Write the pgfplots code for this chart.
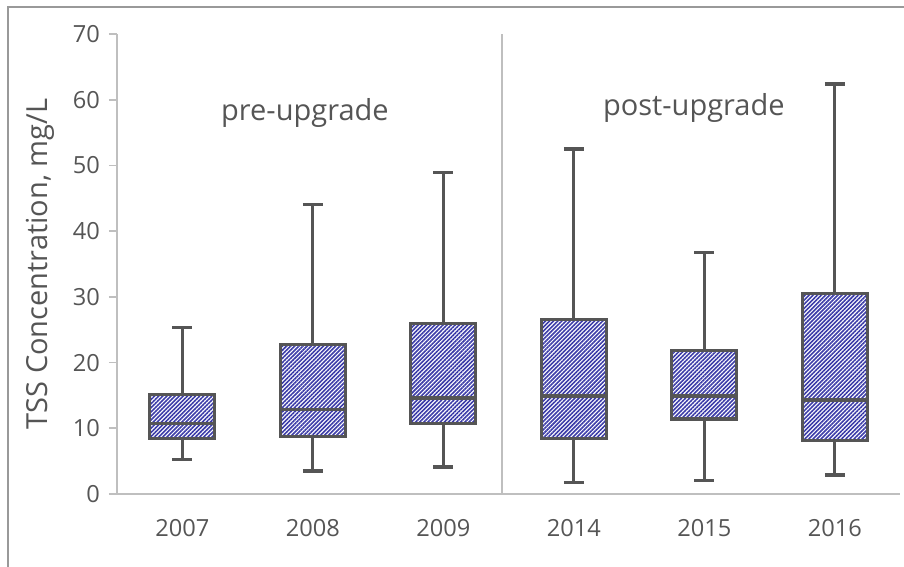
\documentclass[border=0pt]{standalone}
\usepackage{fontspec}
\setmainfont{Open Sans}
\usepackage{pgfplots}
\pgfplotsset{compat=1.18}
\usepgfplotslibrary{statistics}
\usetikzlibrary{patterns.meta}

\definecolor{txt}{HTML}{555555}
\definecolor{boxline}{HTML}{555555}
\definecolor{axisgray}{HTML}{BFBFBF}
\definecolor{hatch}{HTML}{3C3CA8}

\begin{document}
\begin{tikzpicture}
% 1 px of the reference = 0.5pt; axis box lower left at (0,0)
\path[use as bounding box] (-58.5pt,-36.5pt) rectangle (393.5pt,247pt);
\draw[color=axisgray!80!black, line width=0.8pt] (-54.5pt,-40pt) -- (-54.5pt,243.5pt) -- (400pt,243.5pt);

\begin{axis}[
    scale only axis,
    width=391.5pt, height=230pt,
    xmin=-0.5, xmax=5.5,
    ymin=0, ymax=70,
    axis x line=bottom, axis y line=left,
    axis line style={-, color=axisgray, line width=0.8pt},
    xtick={0,1,2,3,4,5},
    xticklabels={2007,2008,2009,2014,2015,2016},
    x tick style={draw=none},
    ytick={0,10,...,70},
    y tick style={color=axisgray, line width=0.8pt},
    tick align=outside,
    major tick length=4pt,
    tick label style={font=\fontsize{11.8}{13}\selectfont, color=txt},
    /pgf/number format/assume math mode=true,
    xticklabel style={yshift=-5pt},
    yticklabel style={xshift=-1pt},
    ylabel={TSS Concentration, mg/L},
    ylabel style={font=\fontsize{14.5}{16}\selectfont, color=txt, anchor=center, at={(axis description cs:-0.098,0.5)}},
    clip=false,
    boxplot/draw direction=y,
    boxplot/box extend=0.5,
    boxplot/whisker extend=0.15,
    boxplot/every box/.style={pattern={Lines[angle=45,distance=1.45pt,line width=0.8pt]}, pattern color=hatch},
]
\draw[color=axisgray, line width=0.8pt] (axis cs:2.45,0) -- (axis cs:2.45,70);

\addplot[draw=boxline, line width=1.6pt, boxplot prepared={draw position=0,
    lower whisker=5.2, lower quartile=8.4, median=10.7, upper quartile=15.2, upper whisker=25.3}]
    coordinates {};
\addplot[draw=boxline, line width=1.6pt, boxplot prepared={draw position=1,
    lower whisker=3.5, lower quartile=8.8, median=12.9, upper quartile=22.8, upper whisker=44.0}]
    coordinates {};
\addplot[draw=boxline, line width=1.6pt, boxplot prepared={draw position=2,
    lower whisker=4.1, lower quartile=10.7, median=14.6, upper quartile=25.9, upper whisker=48.9}]
    coordinates {};
\addplot[draw=boxline, line width=1.6pt, boxplot prepared={draw position=3,
    lower whisker=1.8, lower quartile=8.5, median=14.9, upper quartile=26.5, upper whisker=52.5}]
    coordinates {};
\addplot[draw=boxline, line width=1.6pt, boxplot prepared={draw position=4,
    lower whisker=2.0, lower quartile=11.4, median=14.9, upper quartile=21.8, upper whisker=36.7}]
    coordinates {};
\addplot[draw=boxline, line width=1.6pt, boxplot prepared={draw position=5,
    lower whisker=2.9, lower quartile=8.2, median=14.3, upper quartile=30.5, upper whisker=62.4}]
    coordinates {};

% medians redrawn on top of the hatching
\addplot[boxline, line width=1.4pt, forget plot] coordinates {(-0.25,10.7) (0.25,10.7)};
\addplot[boxline, line width=1.4pt, forget plot] coordinates {(0.75,12.9) (1.25,12.9)};
\addplot[boxline, line width=1.4pt, forget plot] coordinates {(1.75,14.6) (2.25,14.6)};
\addplot[boxline, line width=1.4pt, forget plot] coordinates {(2.75,14.9) (3.25,14.9)};
\addplot[boxline, line width=1.4pt, forget plot] coordinates {(3.75,14.9) (4.25,14.9)};
\addplot[boxline, line width=1.4pt, forget plot] coordinates {(4.75,14.3) (5.25,14.3)};

\node[font=\fontsize{14.5}{16}\selectfont, color=txt] at (axis cs:0.94,58.0) {pre-upgrade};
\node[font=\fontsize{14.5}{16}\selectfont, color=txt] at (axis cs:3.92,58.8) {post-upgrade};
\end{axis}
\end{tikzpicture}
\end{document}
